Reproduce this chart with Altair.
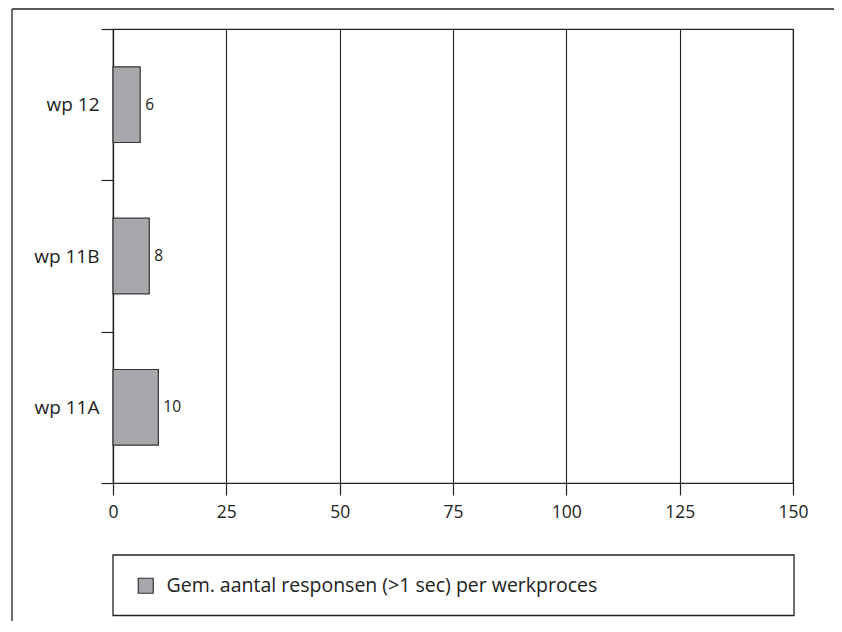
import altair as alt
import pandas as pd

categories = ["wp 12", "wp 11B", "wp 11A"]
values = [6, 8, 10]
series_name = "Gem. aantal responsen (>1 sec) per werkproces"
x_ticks = [0, 25, 50, 75, 100, 125, 150]

df = pd.DataFrame({"cat": categories, "val": values, "series": [series_name] * len(categories)})

FONT = "Open Sans"
LINE = "#222222"

y_enc = alt.Y("cat:N", sort=categories, title=None,
              scale=alt.Scale(paddingInner=0, paddingOuter=0),
              axis=alt.Axis(tickBand="extent", tickSize=12, labelPadding=2, labelFontSize=19,
                            labelFont=FONT, labelColor=LINE, domainColor=LINE, tickColor=LINE,
                            domainWidth=1.2, tickWidth=1.2, grid=False))
x_enc = alt.X("val:Q", title=None,
              scale=alt.Scale(domain=[0, 150], nice=False),
              axis=alt.Axis(values=x_ticks, tickSize=12, labelPadding=8, labelFontSize=17.5,
                            labelFlush=False, labelOverlap=False,
                            labelFont=FONT, labelColor=LINE, domainColor=LINE, tickColor=LINE,
                            domainWidth=1.2, tickWidth=1.2, grid=True, gridColor=LINE,
                            gridOpacity=1, gridWidth=1.1))

base = alt.Chart(df)

bars = base.mark_bar(stroke="#333333", strokeWidth=1.2,
                     height=alt.RelativeBandSize(0.5)).encode(
    x=x_enc, y=y_enc,
    color=alt.Color("series:N", title=None,
                    scale=alt.Scale(range=["#a7a8ab"]),
                    legend=alt.Legend(orient="none", legendX=23, legendY=547,
                                      symbolType="square", symbolSize=225,
                                      symbolStrokeColor="#333333", symbolStrokeWidth=1.2,
                                      labelFontSize=19.5, labelFont=FONT, labelColor=LINE,
                                      labelOffset=11, padding=0, labelLimit=700))
)

texts = base.mark_text(align="left", baseline="middle", dx=5, fontSize=15.5, font=FONT,
                       color=LINE).encode(
    x="val:Q", y=alt.Y("cat:N", sort=categories), text="val:Q"
)

legend_box = base.mark_rect(fill=None, stroke=LINE, strokeWidth=1.3).encode(
    x=alt.value(0), x2=alt.value(681), y=alt.value(526), y2=alt.value(586.5)
).transform_filter(alt.datum.cat == categories[0])

frame_top = base.mark_rule(color=LINE, strokeWidth=1.3).encode(
    x=alt.value(-101), x2=alt.value(740), y=alt.value(-20)
).transform_filter(alt.datum.cat == categories[0])

frame_left = base.mark_rule(color=LINE, strokeWidth=1.3).encode(
    x=alt.value(-101), y=alt.value(-20), y2=alt.value(620)
).transform_filter(alt.datum.cat == categories[0])

chart = alt.layer(bars, texts, legend_box, frame_top, frame_left).properties(
    width=680, height=454,
    autosize=alt.AutoSizeParams(type="none"),
    padding={"left": 105, "top": 21, "right": 41, "bottom": 138},
    background="white",
).configure_view(stroke=LINE, strokeWidth=1.2)

chart.save("out.html", embed_options={"renderer": "svg", "actions": False})
